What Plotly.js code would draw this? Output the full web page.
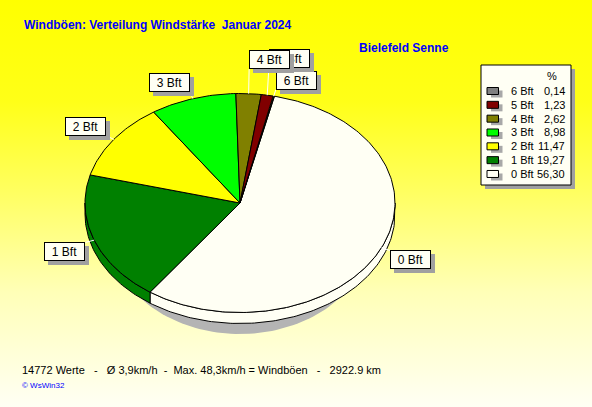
<!DOCTYPE html>
<html>
<head>
<meta charset="utf-8">
<script src="https://cdn.plot.ly/plotly-3.0.1.min.js"></script>
<style>
  body { margin: 0; }
  #myDiv {
    width: 592px; height: 407px;
    background: linear-gradient(to bottom, #FFFF00 0%, #FFFF18 25%, #FFFF60 47%, #FFFFB8 72%, #FFFFF4 100%);
  }
</style>
</head>
<body>
<div id="myDiv"></div>
<script>
var cats = ['0 Bft', '1 Bft', '2 Bft', '3 Bft', '4 Bft', '5 Bft', '6 Bft'];
var pct = [56.30, 19.27, 11.47, 8.98, 2.62, 1.23, 0.14];
var colors = ['#FFFFF4', '#008000', '#FFFF00', '#00FF00', '#808000', '#800000', '#808080'];

var titleText = 'Windböen: Verteilung Windstärke \u00a0Januar 2024';
var station = 'Bielefeld Senne';
var footer = '14772 Werte \u00a0 - \u00a0 Ø 3,9km/h \u00a0- \u00a0Max. 48,3km/h = Windböen \u00a0 - \u00a0 2922.9 km';

// pie geometry (pixel-like data units, y axis reversed)
var cx = 240, cy = 203, rx = 155, ry = 109.5, depth = 11, startAngle = 77.2;
var labelLift = [0, 0, 0, 0, -18, -21, 0];
var font = 'Liberation Sans, Arial, sans-serif';

function pt(deg, dy, k) {
  var r = deg * Math.PI / 180;
  k = k || 1;
  return [cx + k * rx * Math.cos(r), cy - k * ry * Math.sin(r) + (dy || 0)];
}
function arc(from, to, dy) {
  var n = Math.max(2, Math.ceil(Math.abs(to - from)));
  var out = [];
  for (var i = 0; i <= n; i++) out.push(pt(from + (to - from) * i / n, dy));
  return out;
}

var a = startAngle;
var slices = pct.map(function (v) {
  var a0 = a, a1 = a - v * 3.6;
  a = a1;
  return {a0: a0, a1: a1, mid: (a0 + a1) / 2};
});

var data = [];

// shadow under the pie
var sh = [];
for (var d = 0; d <= 360; d += 2) {
  var r = d * Math.PI / 180;
  sh.push([cx + 0.85 * rx * Math.cos(r), cy + 27 - 0.95 * ry * Math.sin(r)]);
}
data.push({x: sh.map(p => p[0]), y: sh.map(p => p[1]), mode: 'lines', fill: 'toself',
  fillcolor: '#B4B4B4', line: {width: 0}, hoverinfo: 'skip'});

// side walls
slices.forEach(function (s, i) {
  var lo = Math.max(s.a1, -180), hi = Math.min(s.a0, 0);
  if (lo >= hi) return;
  var pts = arc(lo, hi, 0).concat(arc(hi, lo, depth));
  pts.push(pts[0]);
  data.push({x: pts.map(p => p[0]), y: pts.map(p => p[1]), mode: 'lines', fill: 'toself',
    fillcolor: colors[i], line: {color: 'black', width: 1}, hoverinfo: 'skip'});
});

// top faces
slices.forEach(function (s, i) {
  var pts = [[cx, cy]].concat(arc(s.a0, s.a1, 0));
  pts.push([cx, cy]);
  data.push({x: pts.map(p => p[0]), y: pts.map(p => p[1]), mode: 'lines', fill: 'toself',
    fillcolor: colors[i], line: {color: 'black', width: 1}, hoverinfo: 'skip'});
});

// leader lines
var lx = [], ly = [];
var anchors = slices.map(function (s, i) {
  var e = pt(s.mid), p = pt(s.mid, labelLift[i], 1.06);
  lx.push(e[0], p[0], null);
  ly.push(e[1], p[1], null);
  return p;
});
data.push({x: lx, y: ly, mode: 'lines', line: {color: 'white', width: 1}, hoverinfo: 'skip'});

var annotations = [];
var shapes = [];

// slice labels (drawn from smallest so bigger ones overlap)
for (var i = cats.length - 1; i >= 0; i--) {
  var m = slices[i].mid * Math.PI / 180;
  var base = {x: anchors[i][0], y: anchors[i][1], xref: 'x', yref: 'y', showarrow: false,
    xanchor: Math.cos(m) >= 0 ? 'left' : 'right', yanchor: Math.sin(m) >= 0 ? 'bottom' : 'top',
    borderwidth: 1, borderpad: 2, width: 35, height: 13};
  annotations.push(Object.assign({}, base, {text: '\u00a0', bgcolor: '#A0A0A0', bordercolor: '#A0A0A0',
    font: {family: font, size: 12, color: '#A0A0A0'}, xshift: 4, yshift: -4}));
  annotations.push(Object.assign({}, base, {text: cats[i], bgcolor: '#FFFFF4', bordercolor: 'black',
    font: {family: font, size: 12, color: 'black'}}));
}

// legend box
shapes.push({type: 'rect', xref: 'x', yref: 'y', x0: 485, y0: 69, x1: 575, y1: 189,
  fillcolor: '#A0A0A0', line: {width: 0}});
shapes.push({type: 'rect', xref: 'x', yref: 'y', x0: 481, y0: 65, x1: 571, y1: 185,
  fillcolor: '#FFFFF4', line: {color: 'black', width: 1}});
annotations.push({x: 552, y: 75.5, xref: 'x', yref: 'y', text: '%', showarrow: false,
  font: {family: font, size: 11, color: 'black'}});
for (var row = 0; row < cats.length; row++) {
  var k = cats.length - 1 - row;
  var yRow = 91 + row * 13.83;
  shapes.push({type: 'rect', xref: 'x', yref: 'y', x0: 491, y0: yRow - 0.5, x1: 502.5, y1: yRow + 6.5,
    fillcolor: '#A8A8A8', line: {width: 0}});
  shapes.push({type: 'rect', xref: 'x', yref: 'y', x0: 487, y0: yRow - 3.5, x1: 498.5, y1: yRow + 3.5,
    fillcolor: colors[k], line: {color: 'black', width: 1}});
  annotations.push({x: 509, y: yRow, xref: 'x', yref: 'y', text: cats[k], showarrow: false,
    xanchor: 'left', font: {family: font, size: 11, color: 'black'}});
  annotations.push({x: 567, y: yRow, xref: 'x', yref: 'y', text: pct[k].toFixed(2).replace('.', ','),
    showarrow: false, xanchor: 'right', font: {family: font, size: 11, color: 'black'}});
}

// texts
annotations.push({x: 22, y: 25, xref: 'x', yref: 'y', text: '<b>' + titleText + '</b>', showarrow: false,
  xanchor: 'left', font: {family: font, size: 12, color: '#0000FF'}});
annotations.push({x: 357, y: 48, xref: 'x', yref: 'y', text: '<b>' + station + '</b>', showarrow: false,
  xanchor: 'left', font: {family: font, size: 12, color: '#0000FF'}});
annotations.push({x: 20, y: 370, xref: 'x', yref: 'y', text: footer, showarrow: false,
  xanchor: 'left', font: {family: font, size: 11, color: 'black'}});
annotations.push({x: 20, y: 385, xref: 'x', yref: 'y', text: '© WsWin32', showarrow: false,
  xanchor: 'left', font: {family: font, size: 8, color: '#0000FF'}});

var layout = {
  width: 592,
  height: 407,
  margin: {l: 0, r: 0, t: 0, b: 0, pad: 0},
  paper_bgcolor: 'rgba(0,0,0,0)',
  plot_bgcolor: 'rgba(0,0,0,0)',
  showlegend: false,
  xaxis: {range: [0, 592], visible: false, fixedrange: true},
  yaxis: {range: [407, 0], visible: false, fixedrange: true},
  shapes: shapes,
  annotations: annotations
};

Plotly.newPlot('myDiv', data, layout, {staticPlot: true, displayModeBar: false});
</script>
</body>
</html>
